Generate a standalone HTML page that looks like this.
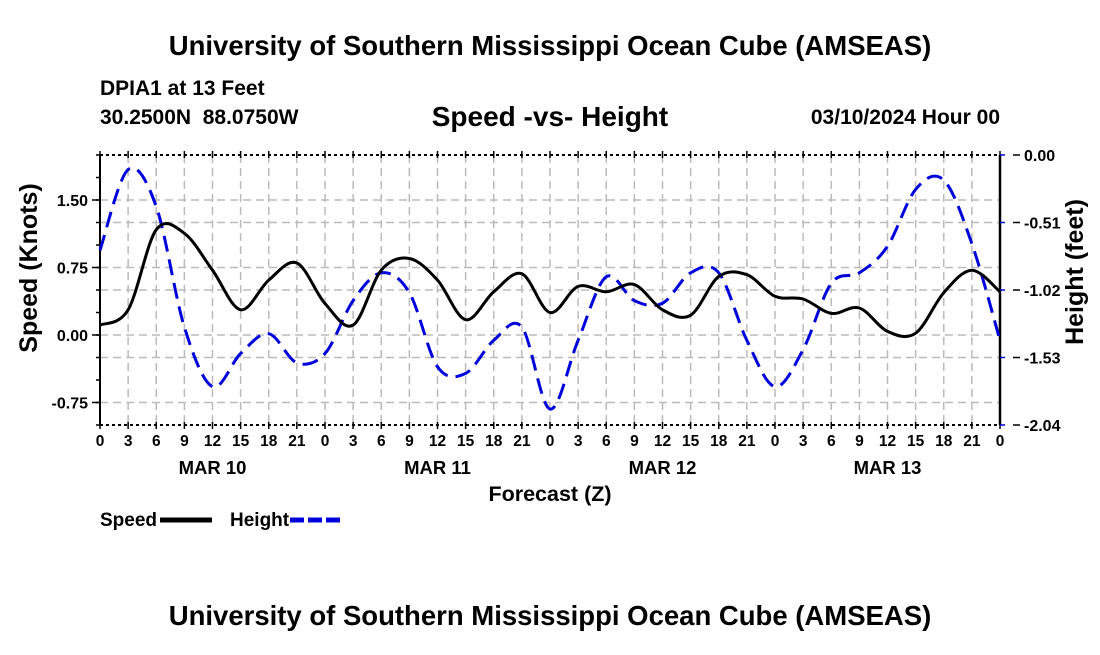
<!DOCTYPE html>
<html><head><meta charset="utf-8"><style>
body{margin:0;background:#fff;}
svg text{font-family:"Liberation Sans",sans-serif;font-weight:bold;fill:#000;}
</style></head><body>
<svg width="1100" height="650" viewBox="0 0 1100 650" xmlns="http://www.w3.org/2000/svg">
<text x="550" y="55" font-size="27.5" text-anchor="middle">University of Southern Mississippi Ocean Cube (AMSEAS)</text>
<text x="100" y="95" font-size="21">DPIA1 at 13 Feet</text>
<text x="100" y="124" font-size="21" style="white-space:pre">30.2500N  88.0750W</text>
<text x="550" y="126" font-size="28" text-anchor="middle">Speed -vs- Height</text>
<text x="1000" y="124" font-size="21" text-anchor="end">03/10/2024 Hour 00</text>
<g id="grid"></g>
<g id="axes"></g>
<g id="series"></g>
<text x="550" y="501" font-size="21.5" text-anchor="middle">Forecast (Z)</text>
<text transform="translate(37,268) rotate(-90)" font-size="25" text-anchor="middle">Speed (Knots)</text>
<text transform="translate(1083,272) rotate(-90)" font-size="25" text-anchor="middle">Height (feet)</text>
<g>
<text x="100" y="526" font-size="19">Speed</text>
<line x1="160" y1="520" x2="212" y2="520" stroke="#000" stroke-width="5"/>
<text x="230" y="526" font-size="19">Height</text>
<line x1="290" y1="520" x2="342" y2="520" stroke="#0000dd" stroke-width="5" stroke-dasharray="14,4"/>
</g>
<text x="550" y="625" font-size="27.5" text-anchor="middle">University of Southern Mississippi Ocean Cube (AMSEAS)</text>
</svg>
<script>
const hours=[0,3,6,9,12,15,18,21,24,27,30,33,36,39,42,45,48,51,54,57,60,63,66,69,72,75,78,81,84,87,90,93,96];
const speed=[0.11,0.28,1.17,1.13,0.72,0.28,0.61,0.80,0.35,0.11,0.72,0.85,0.61,0.17,0.48,0.68,0.25,0.54,0.48,0.56,0.28,0.22,0.65,0.67,0.43,0.40,0.24,0.30,0.04,0.02,0.47,0.72,0.48];
const height=[-0.72,-0.11,-0.39,-1.30,-1.75,-1.50,-1.35,-1.57,-1.50,-1.10,-0.89,-1.04,-1.60,-1.65,-1.40,-1.30,-1.92,-1.40,-0.92,-1.10,-1.12,-0.89,-0.89,-1.40,-1.75,-1.47,-0.97,-0.89,-0.69,-0.26,-0.19,-0.67,-1.40];
const leftTicks=[1.5,0.75,0,-0.75];
const leftTickLabels=["1.50","0.75","0.00","-0.75"];
const rightTicks=[0,-0.51,-1.02,-1.53,-2.04];
const rightTickLabels=["0.00","-0.51","-1.02","-1.53","-2.04"];
const dayLabels=["MAR 10","MAR 11","MAR 12","MAR 13"];
const dayCenters=[12,36,60,84];

const L=100,R=1000,T=155,B=425,NS="http://www.w3.org/2000/svg";
const xS=h=>L+(h-0)/96*(R-L);
const yL=v=>T+(2-v)/3*(B-T);
const yR=v=>T+(0-v)/2.04*(B-T);
function mk(tag,attrs,parent){const e=document.createElementNS(NS,tag);for(const k in attrs)e.setAttribute(k,attrs[k]);parent.appendChild(e);return e;}
const grid=document.getElementById('grid'),axes=document.getElementById('axes'),series=document.getElementById('series');
for(let h=3;h<96;h+=3){const l=mk('line',{x1:xS(h),x2:xS(h),y1:T,y2:B,stroke:'#bbb','stroke-width':1.5,'stroke-dasharray':'8,5'},grid);

}
leftTicks.forEach(v=>{const l=mk('line',{x1:L,x2:R,y1:yL(v),y2:yL(v),stroke:'#bbb','stroke-width':1.5,'stroke-dasharray':'8,5'},grid);

});
rightTicks.slice(1,4).forEach(v=>{const l=mk('line',{x1:L,x2:R,y1:yR(v),y2:yR(v),stroke:'#bbb','stroke-width':1.5,'stroke-dasharray':'8,5'},grid);

});
mk('line',{x1:L,x2:R,y1:T,y2:T,stroke:'#000','stroke-width':2,'stroke-dasharray':'3,3'},axes);
mk('line',{x1:L,x2:R,y1:B,y2:B,stroke:'#000','stroke-width':2,'stroke-dasharray':'3,3'},axes);
mk('line',{x1:L,x2:L,y1:T,y2:B,stroke:'#000','stroke-width':2},axes);
mk('line',{x1:R,x2:R,y1:T,y2:B,stroke:'#000','stroke-width':2.5},axes);
for(let h=0;h<=96;h+=3){mk('line',{x1:xS(h),x2:xS(h),y1:T-4,y2:T+3,stroke:'#000','stroke-width':1.5},axes);
mk('line',{x1:xS(h),x2:xS(h),y1:B-3,y2:B+4,stroke:'#000','stroke-width':1.5},axes);
const t=mk('text',{x:xS(h),y:B+21,'font-size':15.5,'text-anchor':'middle'},axes);t.textContent=String(h%24);

}
dayLabels.forEach((d,i)=>{const t=mk('text',{x:xS(dayCenters[i]),y:B+49,'font-size':18.5,'text-anchor':'middle'},axes);t.textContent=d;

});
for(let v=-1;v<=2.001;v+=0.25){mk('line',{x1:L-4,x2:L,y1:yL(v),y2:yL(v),stroke:'#000','stroke-width':1.5},axes);}
leftTicks.forEach((v,i)=>{mk('line',{x1:L-8,x2:L,y1:yL(v),y2:yL(v),stroke:'#000','stroke-width':1.5},axes);
const t=mk('text',{x:L-12,y:yL(v)+6,'font-size':16,'text-anchor':'end'},axes);t.textContent=leftTickLabels[i];

});
rightTicks.forEach((v,i)=>{mk('line',{x1:R,x2:R+5,y1:yR(v),y2:yR(v),stroke:'#0000dd','stroke-width':1.5},axes);
mk('line',{x1:R+13,x2:R+20,y1:yR(v),y2:yR(v),stroke:'#000','stroke-width':1.5},axes);
const t=mk('text',{x:R+24,y:yR(v)+6,'font-size':16},axes);t.textContent=rightTickLabels[i];

});
function smooth(pts){let d=`M${pts[0][0]},${pts[0][1]}`;for(let i=0;i<pts.length-1;i++){const p0=pts[i-1]||pts[i],p1=pts[i],p2=pts[i+1],p3=pts[i+2]||p2;
d+=` C${p1[0]+(p2[0]-p0[0])/6},${p1[1]+(p2[1]-p0[1])/6} ${p2[0]-(p3[0]-p1[0])/6},${p2[1]-(p3[1]-p1[1])/6} ${p2[0]},${p2[1]}`;}return d;}
const hp=mk('path',{d:smooth(hours.map((h,i)=>[xS(h),yR(height[i])])),fill:'none',stroke:'#0000dd','stroke-width':3,'stroke-dasharray':'16,8'},series);


const sp=mk('path',{d:smooth(hours.map((h,i)=>[xS(h),yL(speed[i])])),fill:'none',stroke:'#000','stroke-width':3},series);


</script>
</body></html>
